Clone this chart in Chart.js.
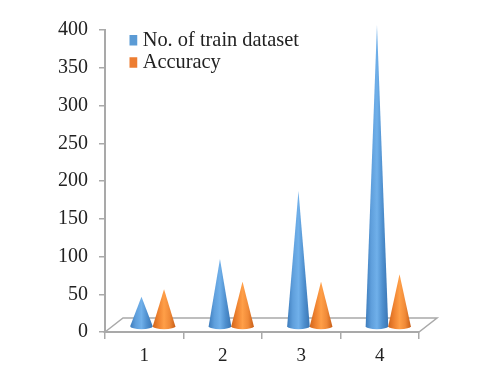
<!DOCTYPE html>
<html>
<head>
<meta charset="utf-8">
<style>html,body{margin:0;padding:0;background:#fff}#box{width:480px;height:378px}canvas{filter:blur(.5px)}</style>
<script src="https://cdn.jsdelivr.net/npm/chart.js@4"></script>
</head>
<body>
<div id="box"><canvas id="c" width="480" height="378"></canvas></div>
<script>
const categories = ['1', '2', '3', '4'];
const trainDataset = [40, 90, 180, 400];
const accuracy = [50, 60, 60, 70];
const seriesNames = ['No. of train dataset', 'Accuracy'];

const FONT = 'Liberation Serif';
const GRAY = '#a9a9a9';
const DEPTH = {x: 8.5, y: -5, floorX: 18, floorY: -14};
const SHADES = [
  ['#3d7cbc', '#5f9fdc', '#70b0ea', '#4e8fce', '#3a76b4'],
  ['#d2661c', '#ee8230', '#ff9f48', '#f08a38', '#c95f18']
];

const conePlugin = {
  id: 'cones',
  afterLayout(chart) {
    const lg = chart.legend;
    const dx = 24.5, dy = 28;
    lg.left += dx; lg.right += dx; lg.top += dy; lg.bottom += dy;
  },
  beforeDraw(chart) {
    const {ctx, chartArea: a} = chart;
    const y0 = chart.scales.y.getPixelForValue(0);
    ctx.save();
    ctx.beginPath();
    ctx.moveTo(a.left, y0);
    ctx.lineTo(a.left + DEPTH.floorX, y0 + DEPTH.floorY);
    ctx.lineTo(a.right + DEPTH.floorX, y0 + DEPTH.floorY);
    ctx.lineTo(a.right, y0);
    ctx.closePath();
    ctx.fillStyle = '#ffffff';
    ctx.fill();
    ctx.lineWidth = 1.5;
    ctx.strokeStyle = GRAY;
    ctx.stroke();
    ctx.restore();
  },
  beforeDatasetsDraw(chart) {
    const {ctx} = chart;
    ctx.save();
    ctx.translate(DEPTH.x, DEPTH.y);
    chart.data.datasets.forEach((ds, i) => {
      chart.getDatasetMeta(i).data.forEach(bar => {
        const hw = bar.width / 2;
        const ry = 3;
        const g = ctx.createLinearGradient(bar.x - hw, 0, bar.x + hw, 0);
        SHADES[i].forEach((c, k) => g.addColorStop(k / 4, c));
        ctx.fillStyle = g;
        ctx.beginPath();
        ctx.moveTo(bar.x, bar.y);
        ctx.lineTo(bar.x + hw, bar.base);
        ctx.ellipse(bar.x, bar.base, hw, ry, 0, 0, Math.PI);
        ctx.closePath();
        ctx.fill();
      });
    });
    ctx.restore();
    return false;
  }
};

new Chart(document.getElementById('c'), {
  type: 'bar',
  data: {
    labels: categories,
    datasets: [
      {label: seriesNames[0], data: trainDataset, backgroundColor: '#5b9bd5', borderWidth: 0},
      {label: seriesNames[1], data: accuracy, backgroundColor: '#ed7d31', borderWidth: 0}
    ]
  },
  plugins: [conePlugin],
  options: {
    responsive: false,
    animation: false,
    layout: {padding: {top: 30, right: 61, bottom: 0, left: 0}},
    datasets: {bar: {categoryPercentage: 0.575, barPercentage: 1}},
    plugins: {
      tooltip: {enabled: false},
      legend: {
        position: 'chartArea',
        align: 'start',
        labels: {
          color: '#222',
          boxWidth: 1,
          boxHeight: 1,
          padding: 2,
          font: {family: FONT, size: 20.4},
          generateLabels(chart) {
            return Chart.defaults.plugins.legend.labels.generateLabels(chart).map(item => {
              item.lineWidth = 9.5;
              item.strokeStyle = item.fillStyle;
              return item;
            });
          }
        }
      }
    },
    scales: {
      x: {
        afterFit(s) { s.height = 46; },
        border: {color: GRAY, width: 2},
        grid: {drawOnChartArea: false, color: GRAY, lineWidth: 1.5, tickLength: 7, offset: true},
        ticks: {color: '#222', padding: 6, maxRotation: 0, font: {family: FONT, size: 19}}
      },
      y: {
        min: 0,
        max: 400,
        afterFit(s) { s.width = 105; },
        border: {color: GRAY, width: 2},
        grid: {drawOnChartArea: false, color: GRAY, lineWidth: 1.5, tickLength: 6},
        ticks: {color: '#222', stepSize: 50, padding: 11, font: {family: FONT, size: 20}}
      }
    }
  }
});
</script>
</body>
</html>
